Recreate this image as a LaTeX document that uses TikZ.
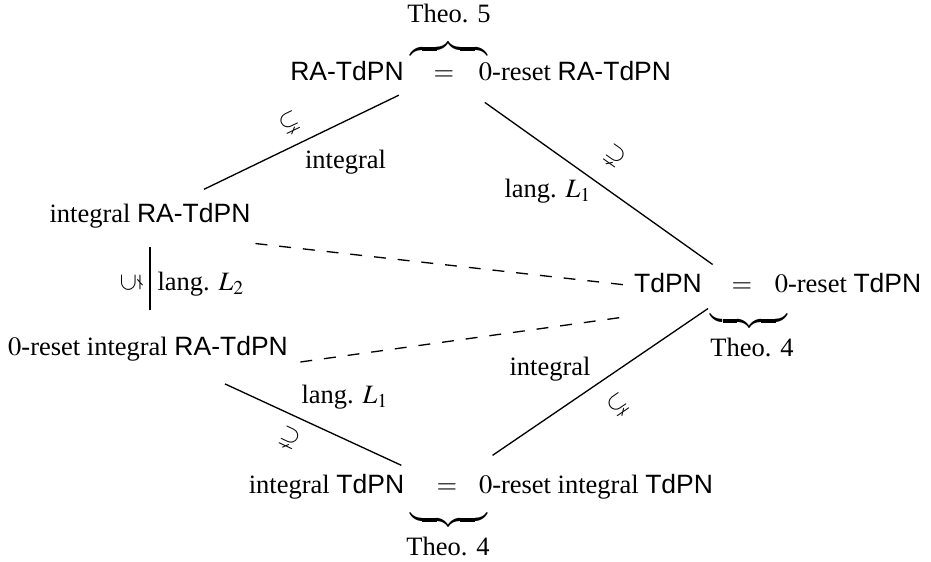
\documentclass[tikz,border=0pt]{standalone}
\usepackage{mathptmx}
\usepackage{amssymb}
\DeclareSymbolFont{largesymbols}{OMX}{cmex}{m}{n}
\usepackage{fontspec}
\setmainfont{Liberation Serif}
\setsansfont{Liberation Sans}
\usetikzlibrary{calc}
\begin{document}
\begin{tikzpicture}[x=0.3774pt,y=-0.3774pt,
  font=\fontsize{10}{12}\selectfont,
  lbl/.style={inner sep=0pt, text height=7pt, text depth=2pt, anchor=base},
  sym/.style={inner sep=0pt, font=\fontsize{9.5}{11}\selectfont},
  brc/.style={inner sep=0pt},
  ln/.style={line width=0.5pt},
  dsh/.style={line width=0.5pt, dash pattern=on 4.5pt off 4.5pt}]
\useasboundingbox (0,0) rectangle (931,561);
% top row
\node[lbl] (theoT) at (449,22) {Theo. 5};
\node[lbl] (RA) at (347,80) {\textsf{RA-TdPN}};
\node[lbl] (eqT) at (444,80) {$=$};
\node[lbl] (RA0) at (575,80) {$0$-reset \textsf{RA-TdPN}};
\node[brc, anchor=south] (brT) at (448.5,59) {$\overbrace{\hspace{29pt}}$};
% left column
\node[lbl] (iRA) at (150,222) {integral \textsf{RA-TdPN}};
\node[lbl] (oiRA) at (148,355) {$0$-reset integral \textsf{RA-TdPN}};
% middle right
\node[lbl] (TdPN) at (668,292) {\textsf{TdPN}};
\node[lbl] (eqM) at (742,292) {$=$};
\node[lbl] (TdPN0) at (848,292) {$0$-reset \textsf{TdPN}};
\node[brc, anchor=north] (brM) at (749,311) {$\underbrace{\hspace{29pt}}$};
\node[lbl] (theoM) at (752,356) {Theo. 4};
% bottom row
\node[lbl] (iTd) at (326.5,493) {integral \textsf{TdPN}};
\node[lbl] (eqB) at (447,493) {$=$};
\node[lbl] (iTd0) at (596,493) {$0$-reset integral \textsf{TdPN}};
\node[brc, anchor=north] (brB) at (448.5,510) {$\underbrace{\hspace{29pt}}$};
\node[lbl] (theoB) at (448,555) {Theo. 4};
% edge labels
\node[lbl] (lbIntA) at (345.5,168) {integral};
\node[lbl] (lbLa) at (548,197) {lang. $L_1$};
\node[lbl, anchor=base west] (lbLb) at (157,290) {lang. $L_2$};
\node[lbl] (lbLc) at (345,403) {lang. $L_1$};
\node[lbl] (lbIntB) at (550,375) {integral};
% inclusion symbols
\node[sym, rotate=25.6] (s1) at (290,123) {$\subsetneq$};
\node[sym, rotate=-35.4] (s2) at (615,156) {$\supsetneq$};
\node[sym, rotate=90] (s3) at (131,283) {$\subsetneq$};
\node[sym, rotate=-25] (s4) at (290,438) {$\supsetneq$};
\node[sym, rotate=34.5] (s5) at (618,405) {$\subsetneq$};
% connectors
\draw[ln, shorten <=22.6pt, shorten >=18.9pt] (iRA.center) -- (eqT.center);
\draw[ln, shorten <=18.9pt, shorten >=13.6pt] (eqT.center) -- (eqM.center);
\draw[ln, shorten <=12pt, shorten >=14.5pt] (iRA.center) -- (iRA.center |- oiRA.center);
\draw[ln, shorten <=32pt, shorten >=19pt] (oiRA.center) -- (eqB.center);
\draw[ln, shorten <=20.8pt, shorten >=15.5pt] (eqB.center) -- (eqM.center);
\draw[dsh] ($(iRA.south east)+(4.5,15.7)$) -- ($(TdPN.west)+(-4,0)$);
\draw[dsh] ($(oiRA.east)+(12,13.6)$) -- ($(TdPN.south west)+(-6,18.7)$);
\end{tikzpicture}
\end{document}
